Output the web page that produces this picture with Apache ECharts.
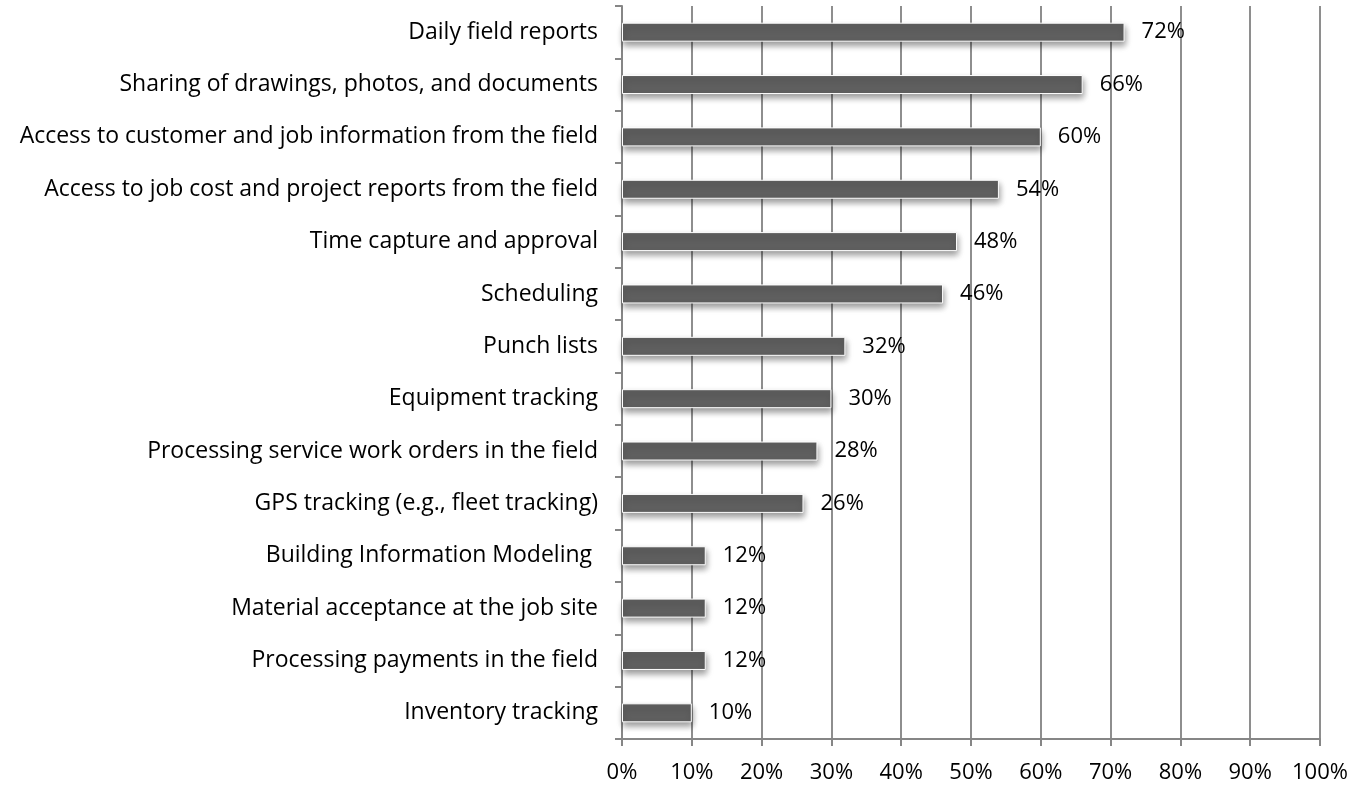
<!DOCTYPE html>
<html><head><meta charset="utf-8">
<script src="https://cdn.jsdelivr.net/npm/echarts@6/dist/echarts.min.js"></script>
<style>html,body{margin:0;padding:0;background:#fff}#c{width:1366px;height:786px}</style>
</head><body><div id="c"></div>
<script>
const categories = [
  "Daily field reports",
  "Sharing of drawings, photos, and documents",
  "Access to customer and job information from the field",
  "Access to job cost and project reports from the field",
  "Time capture and approval",
  "Scheduling",
  "Punch lists",
  "Equipment tracking",
  "Processing service work orders in the field",
  "GPS tracking (e.g., fleet tracking)",
  "Building Information Modeling\u00a0",
  "Material acceptance at the job site",
  "Processing payments in the field",
  "Inventory tracking"
];
const values = [72, 66, 60, 54, 48, 46, 32, 30, 28, 26, 12, 12, 12, 10];
const xTicks = [0, 10, 20, 30, 40, 50, 60, 70, 80, 90, 100];

const FONT = "Open Sans";
const chart = echarts.init(document.getElementById('c'));
chart.setOption({
  animation: false,
  grid: { left: 622, right: 46, top: 6, bottom: 47, containLabel: false },
  xAxis: {
    type: 'value', min: 0, max: 100, interval: 10,
    axisLine: { show: true, lineStyle: { color: '#868686', width: 2 } },
    axisTick: { show: true, length: 7, lineStyle: { color: '#868686', width: 2 } },
    axisLabel: { color: '#000', fontFamily: FONT, fontSize: 22, margin: 23,
      formatter: v => xTicks.includes(v) ? v + '%' : '' },
    splitLine: { show: true, lineStyle: { color: '#8e8e8e', width: 2 } }
  },
  yAxis: {
    type: 'category', data: categories, inverse: true,
    axisLine: { show: true, lineStyle: { color: '#868686', width: 2 } },
    axisTick: { show: true, length: 7, inside: false, lineStyle: { color: '#868686', width: 2 } },
    axisLabel: { color: '#000', fontFamily: FONT, fontSize: 23, margin: 24, padding: [3, 0, 0, 0] }
  },
  series: [{
    type: 'bar', data: values, barWidth: 19,
    itemStyle: { color: '#5f5f5f', borderColor: '#ffffff', borderWidth: 1,
      shadowColor: 'rgba(0,0,0,0.4)', shadowBlur: 6, shadowOffsetY: 4, shadowOffsetX: 1 },
    label: { show: true, position: 'right', distance: 17, color: '#000',
      fontFamily: FONT, fontSize: 22, padding: [3, 0, 0, 0], formatter: p => p.value + '%' }
  }]
});
</script></body></html>
